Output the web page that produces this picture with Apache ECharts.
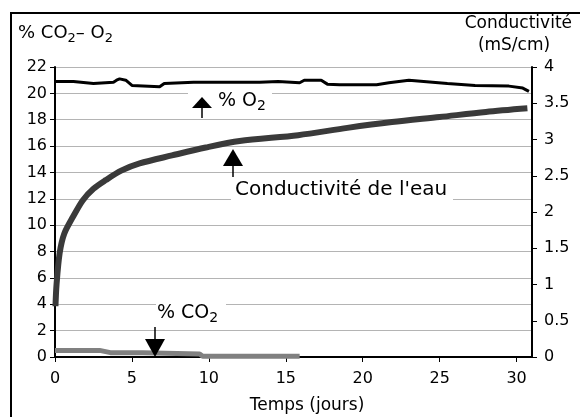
<!DOCTYPE html>
<html>
<head>
<meta charset="utf-8">
<script src="https://cdn.jsdelivr.net/npm/echarts@6/dist/echarts.min.js"></script>
<style>
html,body{margin:0;padding:0;background:#fff;}
#chart{width:580px;height:417px;}
</style>
</head>
<body>
<div id="chart"></div>
<script>
// % O2 (axe de gauche)
var o2Days=[0,1.2,1.3,2.5,2.6,3.8,4.0,4.2,4.6,5.0,6.8,7.1,9.0,13.3,14.5,15.9,16.2,17.3,17.7,18.5,20.9,21.7,23.0,25.5,27.3,29.5,30.4,30.8];
var o2Values=[20.9,20.9,20.75,20.75,20.85,20.85,21.0,21.1,21.0,20.6,20.5,20.75,20.85,20.85,20.9,20.8,21.0,21.0,20.7,20.65,20.65,20.8,21.0,20.75,20.6,20.55,20.4,20.15];
// conductivité (axe de droite, mS/cm)
var condDays=[0.03,0.1,0.3,0.6,1.16,1.8,2.5,3.3,4.3,5.5,7.6,9.8,12,15.8,19,21.9,25,28,30.7];
var condValues=[0.7,1.0,1.43,1.7,1.93,2.16,2.32,2.44,2.57,2.67,2.78,2.89,2.98,3.06,3.16,3.24,3.31,3.38,3.43];
// % CO2 (axe de gauche)
var co2Days=[0,2.9,3.6,5.7,5.8,9.4,9.6,15.9];
var co2Values=[0.5,0.5,0.33,0.33,0.23,0.23,0.06,0.06];

var leftTicks=[0,22,2];
var rightTicks=[0,4,0.5];
var xTicks=[0,31,5];

function pairs(xs,ys){
	var out=[];
	for(var i=0;i<xs.length;i++){
		out.push([xs[i],ys[i]]);
	}
	return out;
}

// texte avec indice (rich text)
function subText(x,y,txt,size){
	return {
		type:'text',z:101,x:x,y:y,
		style:{
			text:txt,fill:'#000',textAlign:'left',textVerticalAlign:'middle',
			rich:{
				n:{fontFamily:'DejaVu Sans',fontSize:size,lineHeight:size+6,fill:'#000'},
				s:{fontFamily:'DejaVu Sans',fontSize:size-5,lineHeight:size-6,verticalAlign:'bottom',fill:'#000'}
			}
		}
	};
}

function loadChart(){
	var myChart=echarts.init(document.getElementById('chart'),null,{renderer:'canvas'});
	var font='DejaVu Sans';
	var option={
		animation:false,
		backgroundColor:'#fff',
		grid:{left:55,top:67,right:48,bottom:60},
		xAxis:{
			type:'value',
			min:xTicks[0],max:xTicks[1],interval:xTicks[2],
			axisLine:{lineStyle:{color:'#000',width:2}},
			axisTick:{length:5,lineStyle:{color:'#000'}},
			axisLabel:{color:'#000',fontFamily:font,fontSize:16,margin:14,showMaxLabel:false},
			splitLine:{show:false}
		},
		yAxis:[
			{
				type:'value',
				min:leftTicks[0],max:leftTicks[1],interval:leftTicks[2],
				axisLine:{show:true,lineStyle:{color:'#000',width:2}},
				axisTick:{show:true,length:5,lineStyle:{color:'#000'}},
				axisLabel:{color:'#000',fontFamily:font,fontSize:16,margin:8},
				splitLine:{show:true,lineStyle:{color:'#b4b4b4',width:1}}
			},
			{
				type:'value',
				position:'right',
				min:rightTicks[0],max:rightTicks[1],interval:rightTicks[2],
				axisLine:{show:true,lineStyle:{color:'#000',width:2}},
				axisTick:{show:true,length:5,lineStyle:{color:'#000'}},
				axisLabel:{color:'#000',fontFamily:font,fontSize:16,margin:12},
				splitLine:{show:false}
			}
		],
		series:[
			{
				name:'% O2',type:'line',yAxisIndex:0,
				data:pairs(o2Days,o2Values),
				symbol:'none',
				lineStyle:{color:'#000',width:3}
			},
			{
				name:'Conductivité',type:'line',yAxisIndex:1,
				data:pairs(condDays,condValues),
				symbol:'none',smooth:0.3,
				lineStyle:{color:'#3a3a3a',width:6}
			},
			{
				name:'% CO2',type:'line',yAxisIndex:0,
				data:pairs(co2Days,co2Values),
				symbol:'none',
				lineStyle:{color:'#808080',width:5}
			}
		],
		graphic:[
			// cadre
			{type:'rect',z:100,shape:{x:11,y:13,width:600,height:450},style:{fill:'none',stroke:'#000',lineWidth:2}},
			// titres des axes
			subText(18,33,'{n|% CO}{s|2}{n|– O}{s|2}',18),
			{type:'text',z:100,x:572,y:24,style:{text:'Conductivité',font:'17px DejaVu Sans',fill:'#000',textAlign:'right',textVerticalAlign:'middle'}},
			{type:'text',z:100,x:514,y:46,style:{text:'(mS/cm)',font:'17px DejaVu Sans',fill:'#000',textAlign:'center',textVerticalAlign:'middle'}},
			{type:'text',z:100,x:307,y:406,style:{text:'Temps (jours)',font:'17px DejaVu Sans',fill:'#000',textAlign:'center',textVerticalAlign:'middle'}},
			// % O2
			{type:'rect',z:100,shape:{x:188,y:89,width:84,height:24},style:{fill:'#fff'}},
			{type:'polygon',z:101,shape:{points:[[202,97],[192,108],[212,108]]},style:{fill:'#000'}},
			{type:'line',z:101,shape:{x1:202,y1:108,x2:202,y2:118},style:{stroke:'#000',lineWidth:1.5}},
			subText(218,101,'{n|% O}{s|2}',19),
			// conductivité
			{type:'rect',z:100,shape:{x:231,y:181,width:222,height:22},style:{fill:'#fff'}},
			{type:'polygon',z:101,shape:{points:[[233,149],[223,166],[243,166]]},style:{fill:'#000'}},
			{type:'line',z:101,shape:{x1:233,y1:166,x2:233,y2:177},style:{stroke:'#000',lineWidth:1.5}},
			{type:'text',z:101,x:235,y:190,style:{text:"Conductivité de l'eau",font:'20px DejaVu Sans',fill:'#000',textAlign:'left',textVerticalAlign:'middle'}},
			// % CO2
			{type:'rect',z:100,shape:{x:156,y:300,width:70,height:26},style:{fill:'#fff'}},
			subText(157,313,'{n|% CO}{s|2}',19),
			{type:'line',z:101,shape:{x1:155,y1:327,x2:155,y2:340},style:{stroke:'#000',lineWidth:1.5}},
			{type:'polygon',z:101,shape:{points:[[145,339],[165,339],[155,357]]},style:{fill:'#000'}}
		]
	};
	myChart.setOption(option);
}
loadChart();
</script>
</body>
</html>
